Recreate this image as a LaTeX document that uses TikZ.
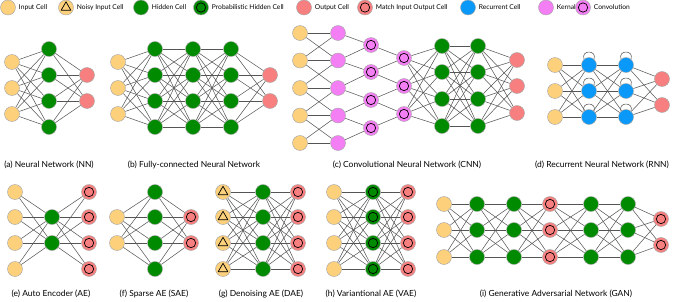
\documentclass[tikz,border=0pt]{standalone}
\usepackage{fontspec}
\setmainfont{Lato}
\usetikzlibrary{positioning,backgrounds}
\definecolor{inputc}{HTML}{FDD07C}
\definecolor{hiddenc}{HTML}{008A00}
\definecolor{outputc}{HTML}{F87F7F}
\definecolor{recurc}{HTML}{0A99F8}
\definecolor{kernc}{HTML}{F47EF4}
\definecolor{rimc}{HTML}{A8A8A8}
\definecolor{wirec}{HTML}{555555}
\tikzset{
  cell/.style={
    circle, draw=rimc, fill=#1, line width=0.4pt,
    minimum size=0.45cm, inner sep=0pt
  },
  cell/.default=hiddenc,
  ringcell/.style={
    cell=#1,
    path picture={\draw[black, line width=0.6pt]
      (path picture bounding box.center) circle (0.14cm);}
  },
  ringcell/.default=outputc,
  noisycell/.style={
    cell=inputc,
    path picture={\draw[black, line width=0.6pt, line join=round]
      ([shift={(90:0.17cm)}]path picture bounding box.center)
      -- ([shift={(210:0.17cm)}]path picture bounding box.center)
      -- ([shift={(330:0.17cm)}]path picture bounding box.center) -- cycle;}
  },
  synapse/.style={draw=wirec, line width=0.45pt},
  legendtext/.style={font=\fontsize{5.7}{6.5}\selectfont, inner sep=0pt, right=0.09cm of #1},
  caption/.style={font=\fontsize{7.2}{8}\selectfont, inner sep=0pt},
}
% one column of cells: name prefix, style, x, list of y
\newcommand{\cellcol}[4]{%
  \foreach \yy [count=\k] in {#4}{\node[#2] (#1\k) at (#3,\yy) {};}}
% every cell of one column to every cell of the next
\newcommand{\wireall}[4]{%
  \foreach \i in {1,...,#2}{\foreach \j in {1,...,#4}{\draw[synapse] (#1\i) -- (#3\j);}}}

\begin{document}
\begin{tikzpicture}[x=0.03cm, y=-0.03cm]
  \useasboundingbox (0,0) rectangle (675,301);

  % Legend
  \node[cell=inputc] (lg1) at (8,7.5) {};
  \node[legendtext=lg1] {Input Cell};
  \node[noisycell] (lg2) at (66,7.5) {};
  \node[legendtext=lg2] {Noisy Input Cell};
  \node[cell=hiddenc] (lg3) at (141,7.5) {};
  \node[legendtext=lg3] {Hidden Cell};
  \node[ringcell=hiddenc] (lg4) at (201,7.5) {};
  \node[legendtext=lg4] {Probabilistic Hidden Cell};
  \node[cell=outputc] (lg5) at (304,7.5) {};
  \node[legendtext=lg5] {Output Cell};
  \node[ringcell=outputc] (lg6) at (365,7.5) {};
  \node[legendtext=lg6] {Match Input Output Cell};
  \node[cell=recurc] (lg7) at (468,7.5) {};
  \node[legendtext=lg7] {Recurrent Cell};
  \node[cell=kernc] (lg8) at (546,7.5) {};
  \node[legendtext=lg8] {Kernal};
  \node[ringcell=kernc] (lg9) at (583,7.5) {};
  \node[legendtext=lg9] {Convolution};

  % (a) Neural Network
  \cellcol{a0-}{cell=inputc}{12}{62,88,114}
  \cellcol{a1-}{cell}{49}{49,75,101,127}
  \cellcol{a2-}{cell=outputc}{87}{75,101}
  \node[caption] (capa) at (49,165) {(a) Neural Network (NN)};

  % (b) Fully-connected
  \cellcol{b0-}{cell=inputc}{118}{62,88,114}
  \cellcol{b1-}{cell}{155}{49,75,101,127}
  \cellcol{b2-}{cell}{193}{49,75,101,127}
  \cellcol{b3-}{cell}{231}{49,75,101,127}
  \cellcol{b4-}{cell=outputc}{270}{75,101}
  \node[caption] (capb) at (194,165) {(b) Fully-connected Neural Network};

  % (c) Convolutional
  \cellcol{c0-}{cell=inputc}{300}{33,60.5,88,115.5,143}
  \cellcol{c1-}{cell=kernc}{338}{33,60.5,88,115.5,143}
  \cellcol{c2-}{ringcell=kernc}{371}{45,72,100,128}
  \cellcol{c3-}{ringcell=kernc}{404}{58,86,114}
  \cellcol{c4-}{cell}{442}{46,72,99,126}
  \cellcol{c5-}{cell}{478}{46,72,99,126}
  \cellcol{c6-}{cell=outputc}{517}{60,86,113}
  \node[caption] (capc) at (407,165) {(c) Convolutional Neural Network (CNN)};

  % (d) Recurrent
  \cellcol{d0-}{cell=inputc}{555}{65,91,117}
  \cellcol{d1-}{cell=recurc}{589}{65,91,117}
  \cellcol{d2-}{cell=recurc}{626}{65,91,117}
  \cellcol{d3-}{cell=outputc}{662}{79,105}
  \node[caption] (capd) at (602,165) {(d) Recurrent Neural Network (RNN)};

  % (e) Auto Encoder
  \cellcol{e0-}{cell=inputc}{15}{192,217,243,269}
  \cellcol{e1-}{cell}{52}{217,243}
  \cellcol{e2-}{ringcell}{89}{192,217,243,269}
  \node[caption] (cape) at (51,294) {(e) Auto Encoder (AE)};

  % (f) Sparse AE
  \cellcol{f0-}{cell=inputc}{117}{217,243}
  \cellcol{f1-}{cell}{155}{192,217,243,269}
  \cellcol{f2-}{ringcell}{191}{217,243}
  \node[caption] (capf) at (154,294) {(f) Sparse AE (SAE)};

  % (g) Denoising AE
  \cellcol{g0-}{noisycell}{223}{192,217,243,269}
  \cellcol{g1-}{cell}{263}{192,217,243,269}
  \cellcol{g2-}{ringcell}{298}{192,217,243,269}
  \node[caption] (capg) at (261,294) {(g) Denoising AE (DAE)};

  % (h) Variational AE
  \cellcol{h0-}{cell=inputc}{334}{192,217,243,269}
  \cellcol{h1-}{ringcell=hiddenc}{373}{192,217,243,269}
  \cellcol{h2-}{ringcell}{408}{192,217,243,269}
  \node[caption] (caph) at (371,294) {(h) Variantional AE (VAE)};

  % (i) GAN
  \cellcol{i0-}{cell=inputc}{444}{204,230,257}
  \cellcol{i1-}{cell}{477}{204,230,257}
  \cellcol{i2-}{cell}{514}{204,230,257}
  \cellcol{i3-}{ringcell}{550}{204,230,257}
  \cellcol{i4-}{cell}{591}{204,230,257}
  \cellcol{i5-}{cell}{628}{204,230,257}
  \cellcol{i6-}{ringcell}{661}{219,245}
  \node[caption] (capi) at (556,294) {(i) Generative Adversarial Network (GAN)};

  \begin{scope}[on background layer]
    \wireall{a0-}{3}{a1-}{4} \wireall{a1-}{4}{a2-}{2}
    \wireall{b0-}{3}{b1-}{4} \wireall{b1-}{4}{b2-}{4}
    \wireall{b2-}{4}{b3-}{4} \wireall{b3-}{4}{b4-}{2}
    % local windows of the convolution
    \foreach \i in {1,...,5}{\draw[synapse] (c0-\i) -- (c1-\i);}
    \foreach \i [evaluate=\i as \n using int(\i+1)] in {1,...,4}{
      \draw[synapse] (c0-\i) -- (c1-\n);
      \draw[synapse] (c0-\n) -- (c1-\i);
      \draw[synapse] (c1-\i) -- (c2-\i);
      \draw[synapse] (c1-\n) -- (c2-\i);}
    \foreach \i [evaluate=\i as \n using int(\i+1)] in {1,...,3}{
      \draw[synapse] (c2-\i) -- (c3-\i);
      \draw[synapse] (c2-\n) -- (c3-\i);}
    \wireall{c3-}{3}{c4-}{4} \wireall{c4-}{4}{c5-}{4} \wireall{c5-}{4}{c6-}{3}
    \wireall{d0-}{3}{d1-}{3} \wireall{d1-}{3}{d2-}{3} \wireall{d2-}{3}{d3-}{2}
    % self loops of the recurrent cells
    \foreach \i in {1,2,3}{
      \draw[synapse] (d1-\i.130) .. controls +(110:0.3cm) and +(70:0.3cm) .. (d1-\i.50);
      \draw[synapse] (d2-\i.130) .. controls +(110:0.3cm) and +(70:0.3cm) .. (d2-\i.50);}
    \wireall{e0-}{4}{e1-}{2} \wireall{e1-}{2}{e2-}{4}
    \wireall{f0-}{2}{f1-}{4} \wireall{f1-}{4}{f2-}{2}
    \wireall{g0-}{4}{g1-}{4} \wireall{g1-}{4}{g2-}{4}
    \wireall{h0-}{4}{h1-}{4} \wireall{h1-}{4}{h2-}{4}
    \wireall{i0-}{3}{i1-}{3} \wireall{i1-}{3}{i2-}{3} \wireall{i2-}{3}{i3-}{3}
    \wireall{i3-}{3}{i4-}{3} \wireall{i4-}{3}{i5-}{3} \wireall{i5-}{3}{i6-}{2}
  \end{scope}
\end{tikzpicture}
\end{document}
